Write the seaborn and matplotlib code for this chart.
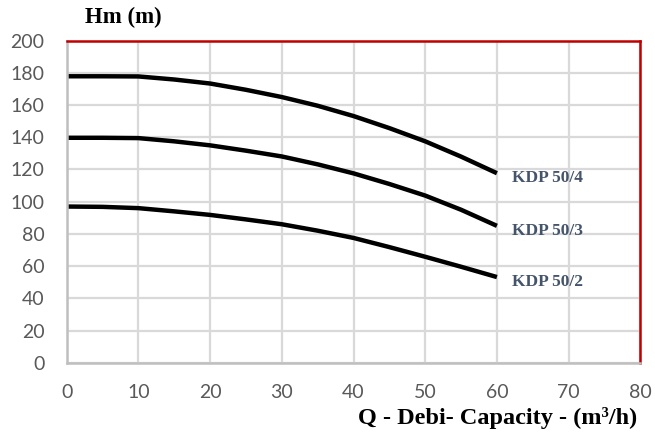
import matplotlib
matplotlib.use("Agg")
import matplotlib.pyplot as plt
import seaborn as sns
import pandas as pd

# Data
q = [0, 5, 10, 15, 20, 25, 30, 35, 40, 45, 50, 55, 60]
h_50_4 = [177.9, 177.9, 177.8, 175.9, 173.4, 169.5, 165.0, 159.6, 153.2, 145.7, 137.5, 128.0, 117.7]
h_50_3 = [139.7, 139.7, 139.5, 137.5, 135.0, 131.7, 128.1, 123.2, 117.6, 111.0, 103.8, 95.0, 85.0]
h_50_2 = [97.0, 96.8, 96.0, 94.0, 91.8, 89.0, 86.0, 82.0, 77.5, 71.8, 65.8, 59.6, 53.2]
models = ["KDP 50/4", "KDP 50/3", "KDP 50/2"]
x_ticks = [0, 10, 20, 30, 40, 50, 60, 70, 80]
y_ticks = [0, 20, 40, 60, 80, 100, 120, 140, 160, 180, 200]

frames = []
for name, vals in zip(models, [h_50_4, h_50_3, h_50_2]):
    frames.append(pd.DataFrame({"Q": q, "H": vals, "model": name}))
df = pd.concat(frames, ignore_index=True)

sns.set_theme(style="white")
plt.rcParams["font.family"] = ["Lato", "DejaVu Sans"]

fig = plt.figure(figsize=(6.55, 4.32), dpi=100)
ax = fig.add_axes([0.1018, 0.1604, 0.8758, 0.7454])

sns.lineplot(data=df, x="Q", y="H", hue="model", palette=["black"] * 3,
             linewidth=3.2, legend=False, ax=ax, estimator=None, sort=True)
for line in ax.lines:
    line.set_solid_joinstyle("round")
    line.set_solid_capstyle("butt")

ax.set_xlim(0, 80)
ax.set_ylim(0, 200)
ax.set_xticks(x_ticks)
ax.set_yticks(y_ticks)
ax.grid(True, color="#d9d9d9", linewidth=1.6)
ax.set_axisbelow(True)
for side in ["left", "bottom"]:
    ax.spines[side].set_color("#bfbfbf")
    ax.spines[side].set_linewidth(1.8)
for side in ["top", "right"]:
    ax.spines[side].set_color("#c00000")
    ax.spines[side].set_linewidth(1.8)
    ax.spines[side].set_visible(True)

ax.tick_params(axis="both", length=0, labelsize=14, labelcolor="#595959")
ax.tick_params(axis="y", pad=16)
ax.tick_params(axis="x", pad=15)
ax.set_xlabel("")
ax.set_ylabel("")

# curve labels
for name, vals in zip(models, [h_50_4, h_50_3, h_50_2]):
    ax.text(q[-1] + 2.1, vals[-1] - 3, name, fontsize=12.5, fontweight="bold",
            family=["Liberation Serif"], color="#44546a", va="center", ha="left")

fig.text(85 / 655, 1 - 17 / 432, "Hm (m)", fontsize=16.5, fontweight="bold",
         family=["Liberation Serif"], color="black", va="center", ha="left")
fig.text(637 / 655, 1 - 418 / 432, "Q - Debi- Capacity - (m³/h)", fontsize=17.5,
         fontweight="bold", family=["Liberation Serif"], color="black",
         va="center", ha="right")

fig.savefig("out.png", dpi=100)
